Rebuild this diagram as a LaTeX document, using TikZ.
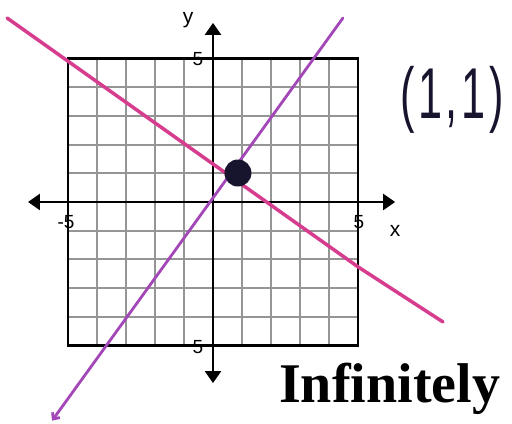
\documentclass[tikz,border=0pt]{standalone}
\usepackage{fontspec}
\setmainfont{Liberation Sans}
\newfontfamily\headfont{Liberation Serif}
\usepackage{xcolor}
\usetikzlibrary{arrows.meta}

\definecolor{gridgray}{HTML}{959595}
\definecolor{linepink}{HTML}{D63D8F}
\definecolor{lineviolet}{HTML}{A347B8}
\definecolor{inkblue}{HTML}{17142E}

\begin{document}
\begin{tikzpicture}[x=29bp, y=28.7bp, every node/.style={font=\fontsize{19bp}{22bp}\selectfont, inner sep=1bp}]
    \useasboundingbox (-7.345,-7.735) rectangle (10.31,7.038);

    % Grid
    \foreach \i in {-4,...,4} {
        \draw[gridgray, line width=2bp] (\i,-5) -- (\i,5);
        \draw[gridgray, line width=2bp] (-5,\i) -- (5,\i);
    }
    \draw[line width=2.5bp] (-5,-5) rectangle (5,5);

    % Axes
    \coordinate (xleft) at (-6.38,0);
    \coordinate (xright) at (6.28,0);
    \coordinate (ytop) at (0,6.24);
    \coordinate (ybottom) at (0,-6.31);
    \draw[line width=2.5bp, {Triangle[length=12bp,width=16bp]}-{Triangle[length=12bp,width=16bp]}] (xleft) -- (xright);
    \draw[line width=2.5bp, {Triangle[length=12bp,width=16bp]}-{Triangle[length=12bp,width=16bp]}] (ybottom) -- (ytop);

    % Tick labels
    \node (ytick) at (-0.52,4.98) {5};
    \node (ybtick) at (-0.52,-5.05) {5};
    \node (xltick) at (-5.07,-0.70) {-5};
    \node (xrtick) at (5.03,-0.70) {5};
    \node[font=\fontsize{21bp}{24bp}\selectfont] (xlabel) at (6.28,-1.01) {x};
    \node[font=\fontsize{21bp}{24bp}\selectfont] (ylabel) at (-0.86,6.34) {y};

    % Lines
    \coordinate (pinkA) at (-7.1,6.41);
    \coordinate (pinkB) at (5,-2.26);
    \coordinate (pinkC) at (7.93,-4.18);
    \draw[linepink, line width=3.5bp, line cap=round, line join=round] (pinkA) -- (pinkB) -- (pinkC);

    \coordinate (violetA) at (4.48,6.41);
    \coordinate (violetB) at (-5.55,-7.62);
    \draw[lineviolet, line width=2.8bp, line cap=round, -{Straight Barb[length=5bp,width=9bp]}] (violetA) -- (violetB);

    % Solution point
    \fill[inkblue] (0.86,1.01) circle[radius=13.5bp];
    \node[inkblue, font=\fontsize{72bp}{76bp}\selectfont, xscale=0.6] (answer) at (8.24,3.55) {(\hspace{6bp}1\hspace{6bp},\hspace{6bp}1\hspace{6bp})};

    % Caption
    \node[anchor=base west, font=\headfont\bfseries\fontsize{56bp}{60bp}\selectfont] (caption) at (2.24,-6.97) {Infinitely};
\end{tikzpicture}
\end{document}
